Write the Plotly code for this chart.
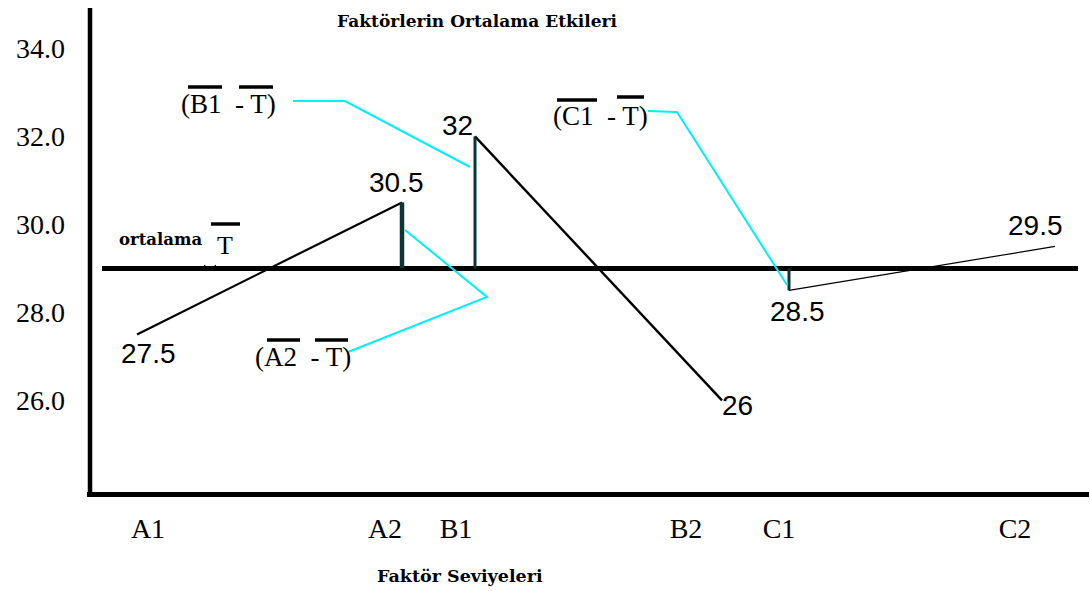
import plotly.graph_objects as go

# ---------------- data ----------------
levels = ["A1", "A2", "B1", "B2", "C1", "C2"]
factor_of_level = ["A", "A", "B", "B", "C", "C"]
level_means = [27.5, 30.5, 32.0, 26.0, 28.5, 29.5]
value_labels = ["27.5", "30.5", "32", "26", "28.5", "29.5"]
grand_mean = 29.0
deviation_levels = ["A2", "B1", "C1"]
deviation_texts = ["(A2  - T)", "(B1  - T)", "(C1  - T)"]
y_tickvals = [26, 28, 30, 32, 34]
y_ticktext = ["26.0", "28.0", "30.0", "32.0", "34.0"]
title_text = "Faktörlerin Ortalama Etkileri"
xaxis_text = "Faktör Seviyeleri"
mean_text = "ortalama"

# ---------------- layout geometry (pixels) ----------------
W, H = 1090, 591
ML, MB = 90, 97
PW, PH = W - ML, H - MB           # plot area 1000 x 494
Y_AT_MEAN, PX_PER_UNIT = 268.4, 44.0
y_lo = grand_mean - (PH - Y_AT_MEAN) / PX_PER_UNIT
y_hi = grand_mean + Y_AT_MEAN / PX_PER_UNIT

level_tick_x = [148, 385, 456, 686, 779, 1015]      # label positions on axis
level_point_x = [137, 402, 475, 722, 789, 1055]     # drawn positions of means
label_offsets = [(11, 19), (-6, -20), (-18, -11), (15, 5), (8, 21), (-20, -21)]
factor_widths = {"A": 2.2, "B": 2.4, "C": 1.2}
bar_widths = {"A2": 4.5, "B1": 3, "C1": 3}
mean_line_x = [102, 1078]

# callout leader lines (pixel anchors) and label boxes
callouts = {
    "A2": dict(path=[(348, 352), (487, 297), (405, 230)], center=(303, 357),
               bars=[(267, 300, 340), (315, 348, 340)]),
    "B1": dict(path=[(293, 101), (345, 101), (470, 167)], center=(228, 104),
               bars=[(188, 222, 87), (239, 273, 87)]),
    "C1": dict(path=[(648, 111), (677, 112), (787, 285)], center=(600, 116),
               bars=[(557, 597, 100), (617, 644, 97)]),
}

SERIF = "Liberation Serif"
SANS = "Liberation Sans"
BOLD_SERIF = "DejaVu Serif"
CYAN = "#00f0f8"
DARK = "#0b3636"


def yv(py):
    return grand_mean + (Y_AT_MEAN - py) / PX_PER_UNIT


def xp(px):
    return (px - ML) / PW


def yp(py):
    return 1 - py / PH


fig = go.Figure()

# grand mean line
fig.add_trace(go.Scatter(x=mean_line_x, y=[grand_mean, grand_mean], mode="lines",
                         line=dict(color="black", width=5), hoverinfo="skip"))

# factor main-effect lines
for f in ["A", "B", "C"]:
    idx = [i for i, g in enumerate(factor_of_level) if g == f]
    fig.add_trace(go.Scatter(
        x=[level_point_x[i] for i in idx], y=[level_means[i] for i in idx],
        mode="lines", line=dict(color="black", width=factor_widths[f]), name=f))

# deviation bars from level mean to grand mean
for lv in deviation_levels:
    i = levels.index(lv)
    fig.add_trace(go.Scatter(
        x=[level_point_x[i], level_point_x[i]], y=[level_means[i], grand_mean],
        mode="lines", line=dict(color=DARK, width=bar_widths[lv]), hoverinfo="skip"))

# cyan callouts
for lv, c in callouts.items():
    fig.add_trace(go.Scatter(
        x=[p[0] for p in c["path"]], y=[yv(p[1]) for p in c["path"]],
        mode="lines", line=dict(color=CYAN, width=2), hoverinfo="skip"))

# small notch under "ortalama T"
fig.add_trace(go.Scatter(x=[204, 210, 216], y=[yv(265), yv(269.5), yv(265)], mode="lines",
                         line=dict(color="black", width=1), hoverinfo="skip"))


def ann(px, py, text, font, **kw):
    d = dict(x=xp(px), y=yp(py), xref="paper", yref="paper", text=text, showarrow=False,
             xanchor="center", yanchor="middle", font=font)
    d.update(kw)
    return d


annotations = []
# value labels
for i, txt in enumerate(value_labels):
    dx, dy = label_offsets[i]
    annotations.append(dict(x=level_point_x[i], y=level_means[i], xref="x", yref="y",
                            text=txt, showarrow=False, xshift=dx, yshift=-dy,
                            xanchor="center", yanchor="middle",
                            font=dict(family=SANS, size=28, color="black")))
# deviation labels
for lv, txt in zip(deviation_levels, deviation_texts):
    cx, cy = callouts[lv]["center"]
    annotations.append(ann(cx, cy, txt, dict(family=SERIF, size=27, color="black")))
# ortalama T
annotations.append(ann(160, 239, mean_text,
                       dict(family=BOLD_SERIF, size=16.5, color="black", weight=700)))
annotations.append(ann(225, 246, "T", dict(family=SERIF, size=26, color="black")))
# axis title
annotations.append(ann(460, 576, xaxis_text,
                       dict(family=BOLD_SERIF, size=17.5, color="black", weight=700)))

shapes = []
# axes frame
shapes.append(dict(type="line", xref="paper", yref="paper", x0=xp(90), x1=xp(90),
                   y0=yp(8), y1=yp(492), line=dict(color="black", width=4.5)))
shapes.append(dict(type="line", xref="paper", yref="paper", x0=xp(87), x1=xp(1089),
                   y0=yp(494.5), y1=yp(494.5), line=dict(color="black", width=5)))
# overbars
overbars = [(211, 240, 224)]
for c in callouts.values():
    overbars += c["bars"]
for x0, x1, y in overbars:
    shapes.append(dict(type="line", xref="paper", yref="paper", x0=xp(x0), x1=xp(x1),
                       y0=yp(y), y1=yp(y), line=dict(color="black", width=3.5)))

fig.update_layout(
    width=W, height=H,
    margin=dict(l=ML, r=0, t=0, b=MB),
    plot_bgcolor="white", paper_bgcolor="white",
    showlegend=False,
    title=dict(text=title_text, x=xp(477), xref="paper", xanchor="center",
               y=1 - 21 / H, yref="container", yanchor="middle",
               font=dict(family=BOLD_SERIF, size=17, color="black", weight=700)),
    xaxis=dict(range=[ML, W], showgrid=False, zeroline=False, showline=False,
               tickmode="array", tickvals=level_tick_x, ticktext=levels, ticks="",
               ticklabelstandoff=15, tickfont=dict(family=SERIF, size=28, color="black")),
    yaxis=dict(range=[y_lo, y_hi], showgrid=False, zeroline=False, showline=False,
               tickmode="array", tickvals=y_tickvals, ticktext=y_ticktext, ticks="",
               ticklabelstandoff=24, tickfont=dict(family=SERIF, size=28, color="black")),
    annotations=annotations, shapes=shapes,
)

fig.write_html("out.html", config={"displayModeBar": False},
               post_script="document.body.style.margin='0';")
